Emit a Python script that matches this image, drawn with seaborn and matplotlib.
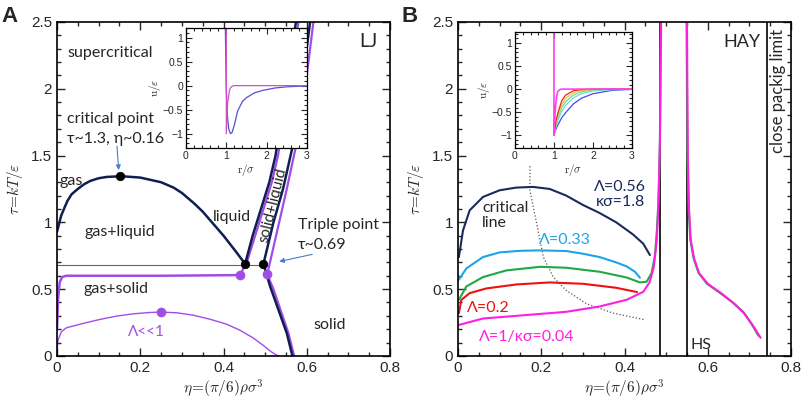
import pandas as pd
import seaborn as sns
import matplotlib.pyplot as plt
from matplotlib.ticker import MultipleLocator, FuncFormatter

# ---- panel A (LJ) data ----
binodal_eta = [0, 0.005, 0.01, 0.018, 0.025, 0.035, 0.05, 0.065, 0.08, 0.1, 0.12, 0.155, 0.2, 0.25, 0.28, 0.3,
               0.33, 0.35, 0.375, 0.4, 0.42, 0.43, 0.442, 0.452]
binodal_tau = [0.93, 0.99, 1.05, 1.11, 1.16, 1.21, 1.25, 1.285, 1.31, 1.33, 1.34, 1.345, 1.335, 1.3, 1.26, 1.22,
               1.14, 1.08, 0.99, 0.9, 0.82, 0.78, 0.73, 0.69]
freeze_eta = [0.452, 0.47, 0.49, 0.51, 0.525, 0.545, 0.574]
freeze_tau = [0.69, 0.9, 1.1, 1.3, 1.5, 1.9, 2.5]
melt_eta = [0.496, 0.52, 0.543, 0.564, 0.585, 0.608]
melt_tau = [0.69, 1.0, 1.25, 1.54, 1.95, 2.5]
solid_eta = [0.496, 0.512, 0.552, 0.568]
solid_tau = [0.69, 0.52, 0.17, -0.03]
sr_freeze_eta = [0.44, 0.458, 0.476, 0.496, 0.516, 0.531, 0.551, 0.58]
sr_freeze_tau = [0.605, 0.72, 0.9, 1.1, 1.3, 1.5, 1.9, 2.5]
sr_melt_eta = [0.505, 0.53, 0.552, 0.572, 0.594, 0.616]
sr_melt_tau = [0.61, 0.95, 1.25, 1.54, 1.95, 2.5]
sr_solid_eta = [0.505, 0.52, 0.556, 0.572]
sr_solid_tau = [0.61, 0.5, 0.17, -0.03]
sr_gs_eta = [0, 0.0024, 0.0064, 0.012, 0.022, 0.1, 0.25, 0.439]
sr_gs_tau = [0.2, 0.42, 0.55, 0.59, 0.6, 0.6, 0.6, 0.605]
vsr_eta = [0, 0.0024, 0.0104, 0.022, 0.0625, 0.103, 0.143, 0.183, 0.223, 0.249, 0.287, 0.327, 0.367,
           0.407, 0.439, 0.471, 0.495, 0.515, 0.531]
vsr_tau = [0.043, 0.118, 0.18, 0.21, 0.243, 0.273, 0.298, 0.315, 0.325, 0.328, 0.323, 0.305, 0.275,
           0.238, 0.193, 0.135, 0.08, 0.03, 0]
black_dots_eta = [0.152, 0.452, 0.496]
black_dots_tau = [1.345, 0.69, 0.69]
purple_dots_eta = [0.439, 0.505, 0.249]
purple_dots_tau = [0.605, 0.61, 0.33]

# inset A: pair potentials
lj_r = [0.975, 0.99, 1.0, 1.03, 1.06, 1.1, 1.14, 1.2, 1.28, 1.4, 1.5, 1.7, 1.9, 2.2, 2.5, 3.0]
lj_u = [1.25, 0.4, -0.1, -0.65, -0.9, -1.0, -0.98, -0.82, -0.53, -0.33, -0.25, -0.15, -0.1, -0.05, -0.025, -0.005]
sr_r = [1.0, 1.0, 1.033, 1.075, 1.1, 1.14, 1.2, 3.0]
sr_u = [1.25, -1.0, -0.36, -0.12, -0.05, -0.014, 0, 0]

# ---- panel B (HAY) data ----
hay_eta = {
    "0.56": [0.002, 0.012, 0.028, 0.06, 0.1, 0.14, 0.18, 0.22, 0.26, 0.3, 0.34, 0.38, 0.42, 0.445, 0.461],
    "0.33": [0.002, 0.02, 0.06, 0.1, 0.15, 0.197, 0.26, 0.3, 0.34, 0.38, 0.405, 0.425, 0.437],
    "green": [0.002, 0.02, 0.06, 0.116, 0.197, 0.26, 0.34, 0.405, 0.437, 0.453, 0.465, 0.473, 0.478, 0.482, 0.485, 0.487],
    "0.2": [0.002, 0.008, 0.028, 0.068, 0.14, 0.22, 0.3, 0.38, 0.43],
    "0.04": [0.0, 0.06, 0.18, 0.26, 0.34, 0.405, 0.445, 0.46, 0.47, 0.477, 0.481, 0.485, 0.488],
}
hay_tau = {
    "0.56": [0.74, 0.94, 1.09, 1.19, 1.24, 1.26, 1.265, 1.25, 1.2, 1.13, 1.07, 1.0, 0.91, 0.84, 0.755],
    "0.33": [0.57, 0.655, 0.74, 0.775, 0.787, 0.79, 0.785, 0.765, 0.74, 0.7, 0.67, 0.63, 0.585],
    "green": [0.42, 0.52, 0.59, 0.64, 0.667, 0.66, 0.63, 0.587, 0.55, 0.555, 0.62, 0.75, 0.95, 1.2, 1.6, 2.5],
    "0.2": [0.32, 0.42, 0.47, 0.505, 0.535, 0.55, 0.54, 0.51, 0.478],
    "0.04": [0.23, 0.28, 0.31, 0.33, 0.37, 0.42, 0.48, 0.55, 0.66, 0.85, 1.1, 1.6, 2.5],
}
hay_colors = {"0.56": "#1b2a5c", "0.33": "#1aa6e6", "green": "#20a845", "0.2": "#ee1111", "0.04": "#ff1fe0"}
green_solid_eta = [0.549, 0.551, 0.554, 0.558, 0.566, 0.578, 0.598, 0.63, 0.66, 0.685, 0.705, 0.722]
green_solid_tau = [2.5, 1.5, 1.1, 0.87, 0.73, 0.62, 0.54, 0.47, 0.4, 0.33, 0.24, 0.15]
mag_solid_eta = [0.55, 0.552, 0.555, 0.559, 0.567, 0.579, 0.6, 0.632, 0.662, 0.687, 0.71, 0.727]
mag_solid_tau = [2.5, 1.5, 1.1, 0.87, 0.73, 0.62, 0.54, 0.47, 0.395, 0.32, 0.22, 0.135]
crit_line_eta = [0.173, 0.1725, 0.189, 0.205, 0.229, 0.26, 0.309, 0.373, 0.449]
crit_line_tau = [1.42, 1.24, 0.99, 0.74, 0.59, 0.49, 0.39, 0.32, 0.27]
vlines_eta = [0.485, 0.55, 0.742]

# inset B: hard-core Yukawa potentials
yuk_r = [1.0, 1.05, 1.1, 1.2, 1.3, 1.5, 1.7, 2.0, 2.5, 3.0]
yuk_u = {
    "#4848f0": [-1.0, -0.87, -0.78, -0.62, -0.51, -0.32, -0.2, -0.1, -0.025, -0.005],
    "#66dded": [-1.0, -0.82, -0.68, -0.48, -0.35, -0.19, -0.1, -0.04, -0.01, 0],
    "#78dd78": [-1.0, -0.78, -0.62, -0.4, -0.27, -0.13, -0.06, -0.02, 0, 0],
    "#e8c848": [-1.0, -0.74, -0.57, -0.33, -0.2, -0.08, -0.03, -0.01, 0, 0],
    "#ee2222": [-1.0, -0.7, -0.52, -0.25, -0.13, -0.035, -0.01, 0, 0, 0],
}
mag_r = [1.0, 1.0, 1.02, 1.043, 1.07, 1.094, 1.15, 1.2, 3.0]
mag_u = [1.24, -1.0, -0.65, -0.35, -0.15, -0.058, -0.01, 0, 0]

NAVY = "#0f1f52"
PURPLE = "#a24ce8"
ARROW = "#4a7cc9"

sns.set_style("ticks")
plt.rcParams['font.family'] = ['Liberation Sans', 'DejaVu Sans']
plt.rcParams['mathtext.fontset'] = 'cm'
LBL = ['Lato', 'DejaVu Sans']

fig = plt.figure(figsize=(8.03, 3.99), dpi=100)
axA = fig.add_axes([0.071, 0.108, 0.4147, 0.837])
axB = fig.add_axes([0.5704, 0.108, 0.4147, 0.837])
insA = fig.add_axes([0.2316, 0.629, 0.1507, 0.3008])
insB = fig.add_axes([0.6413, 0.629, 0.1457, 0.2907])


def curve(ax, xs, ys, color, lw=1.6, **kw):
    sns.lineplot(x=xs, y=ys, ax=ax, color=color, lw=lw, sort=False, estimator=None, **kw)


def style_main(ax):
    ax.set_xlim(0, 0.8)
    ax.set_ylim(0, 2.5)
    ax.xaxis.set_major_locator(MultipleLocator(0.2))
    ax.xaxis.set_minor_locator(MultipleLocator(0.05))
    ax.yaxis.set_major_locator(MultipleLocator(0.5))
    ax.yaxis.set_minor_locator(MultipleLocator(0.1))
    fmt = FuncFormatter(lambda v, p: f"{v:g}")
    ax.xaxis.set_major_formatter(fmt)
    ax.yaxis.set_major_formatter(fmt)
    ax.tick_params(which='both', direction='in', top=True, right=True, labelsize=11, width=1)
    ax.tick_params(which='major', length=6)
    ax.tick_params(which='minor', length=3)
    for s in ax.spines.values():
        s.set_linewidth(1.2)
        s.set_color('black')
    ax.set_xlabel(r'$\eta\!=\!(\pi/6)\rho\sigma^3$', fontsize=11, labelpad=2)
    ax.set_ylabel(r'$\tau\!=\!kT/\varepsilon$', fontsize=11, labelpad=4)


def style_inset(ax, ylim):
    ax.set_xlim(0, 3)
    ax.set_ylim(*ylim)
    ax.xaxis.set_major_locator(MultipleLocator(1))
    ax.xaxis.set_minor_locator(MultipleLocator(0.2))
    ax.yaxis.set_major_locator(MultipleLocator(0.5))
    ax.yaxis.set_minor_locator(MultipleLocator(0.1))
    fmt = FuncFormatter(lambda v, p: f"{v:g}".replace('-', '\u2212'))
    ax.xaxis.set_major_formatter(fmt)
    ax.yaxis.set_major_formatter(fmt)
    ax.tick_params(which='both', direction='in', top=True, right=True, labelsize=7.5, width=0.8, pad=2)
    ax.tick_params(which='major', length=4)
    ax.tick_params(which='minor', length=2)
    for s in ax.spines.values():
        s.set_linewidth(0.9)
        s.set_color('black')
    ax.set_xlabel(r'$\mathrm{r}/\sigma$', fontsize=8, labelpad=1)
    ax.set_ylabel(r'$\mathrm{u}/\varepsilon$', fontsize=8, labelpad=0)


# ---------------- panel A ----------------
style_main(axA)
axA.plot([0, 0.5], [0.68, 0.68], color='#666666', lw=0.8)
curve(axA, binodal_eta, binodal_tau, NAVY, 1.8)
curve(axA, sr_freeze_eta, sr_freeze_tau, PURPLE, 1.6)
curve(axA, sr_melt_eta, sr_melt_tau, PURPLE, 1.6)
curve(axA, sr_solid_eta, sr_solid_tau, PURPLE, 1.6)
curve(axA, freeze_eta, freeze_tau, NAVY, 1.8)
curve(axA, melt_eta, melt_tau, NAVY, 1.8)
curve(axA, solid_eta, solid_tau, NAVY, 1.8)
curve(axA, sr_gs_eta, sr_gs_tau, PURPLE, 1.8)
curve(axA, vsr_eta, vsr_tau, PURPLE, 1.0)
sns.scatterplot(x=black_dots_eta, y=black_dots_tau, ax=axA, color='black', s=38, edgecolor=None, zorder=6)
sns.scatterplot(x=purple_dots_eta, y=purple_dots_tau, ax=axA, color=PURPLE, s=42, edgecolor=None, zorder=6)

axA.text(0.747, 2.35, 'LJ', fontsize=14, family=LBL, ha='center', va='center')
axA.text(0.024, 2.27, 'supercritical', fontsize=11.5, family=LBL, va='center')
axA.text(0.024, 1.77, 'critical point', fontsize=11.5, family=LBL, va='center')
axA.text(0.024, 1.62, '\u03c4~1.3, \u03b7~0.16', fontsize=11.5, family=LBL, va='center')
axA.text(0.006, 1.31, 'gas', fontsize=11.5, family=LBL, va='center')
axA.text(0.067, 0.93, 'gas+liquid', fontsize=11.5, family=LBL, va='center')
axA.text(0.375, 1.04, 'liquid', fontsize=11.5, family=LBL, va='center')
axA.text(0.519, 1.13, 'solid+liquid', fontsize=11, family=LBL, va='center', ha='center', rotation=76)
axA.text(0.579, 0.98, 'Triple point', fontsize=11.5, family=LBL, va='center')
axA.text(0.579, 0.83, '\u03c4~0.69', fontsize=11.5, family=LBL, va='center')
axA.text(0.063, 0.50, 'gas+solid', fontsize=11.5, family=LBL, va='center')
axA.text(0.615, 0.23, 'solid', fontsize=11.5, family=LBL, va='center')
axA.text(0.17, 0.18, '\u039b<<1', fontsize=11, family=LBL, va='center', color=PURPLE)
arrow = dict(arrowstyle='-|>', color=ARROW, lw=0.8, mutation_scale=7, shrinkA=0, shrinkB=3)
axA.annotate('', xy=(0.149, 1.36), xytext=(0.144, 1.57), arrowprops=arrow)
axA.annotate('', xy=(0.524, 0.70), xytext=(0.613, 0.76), arrowprops=arrow)

style_inset(insA, (-1.3, 1.2))
curve(insA, lj_r, lj_u, '#5252d0', 0.9)
curve(insA, sr_r, sr_u, '#d04fc8', 0.9)

# ---------------- panel B ----------------
style_main(axB)
for x in vlines_eta:
    axB.axvline(x, color='black', lw=1.2)
curve(axB, crit_line_eta, crit_line_tau, '#555555', 0.9, linestyle=':')
for key in ["0.56", "0.33", "0.2", "green", "0.04"]:
    curve(axB, hay_eta[key], hay_tau[key], hay_colors[key], 1.5)
curve(axB, green_solid_eta, green_solid_tau, hay_colors["green"], 1.5)
curve(axB, mag_solid_eta, mag_solid_tau, hay_colors["0.04"], 1.5)

axB.text(0.682, 2.35, 'HAY', fontsize=13, family=LBL, ha='center', va='center')
axB.text(0.769, 1.98, 'close packig limit', fontsize=12, family=LBL, ha='center', va='center', rotation=90)
axB.text(0.058, 1.05, 'critical\nline', fontsize=11.5, family=LBL, va='center', linespacing=1.05)
axB.text(0.39, 1.21, '\u039b=0.56\n\u03ba\u03c3=1.8', fontsize=11.5, family=LBL,
         ha='center', va='center', color=hay_colors["0.56"], linespacing=1.05)
axB.text(0.256, 0.87, '\u039b=0.33', fontsize=11.5, family=LBL, ha='center', va='center', color=hay_colors["0.33"])
axB.text(0.073, 0.36, '\u039b=0.2', fontsize=11.5, family=LBL, ha='center', va='center', color=hay_colors["0.2"])
axB.text(0.164, 0.14, '\u039b=1/\u03ba\u03c3=0.04', fontsize=11.5, family=LBL, ha='center', va='center',
         color=hay_colors["0.04"])
axB.text(0.558, 0.08, 'HS', fontsize=11.5, family=LBL, va='center')

style_inset(insB, (-1.28, 1.24))
for c, u in yuk_u.items():
    curve(insB, yuk_r, u, c, 0.9)
curve(insB, mag_r, mag_u, '#ff40f0', 1.2)

fig.text(0.002, 0.985, 'A', fontsize=16, fontweight='bold', va='top')
fig.text(0.5, 0.985, 'B', fontsize=16, fontweight='bold', va='top')

fig.savefig('out.png', dpi=100)
